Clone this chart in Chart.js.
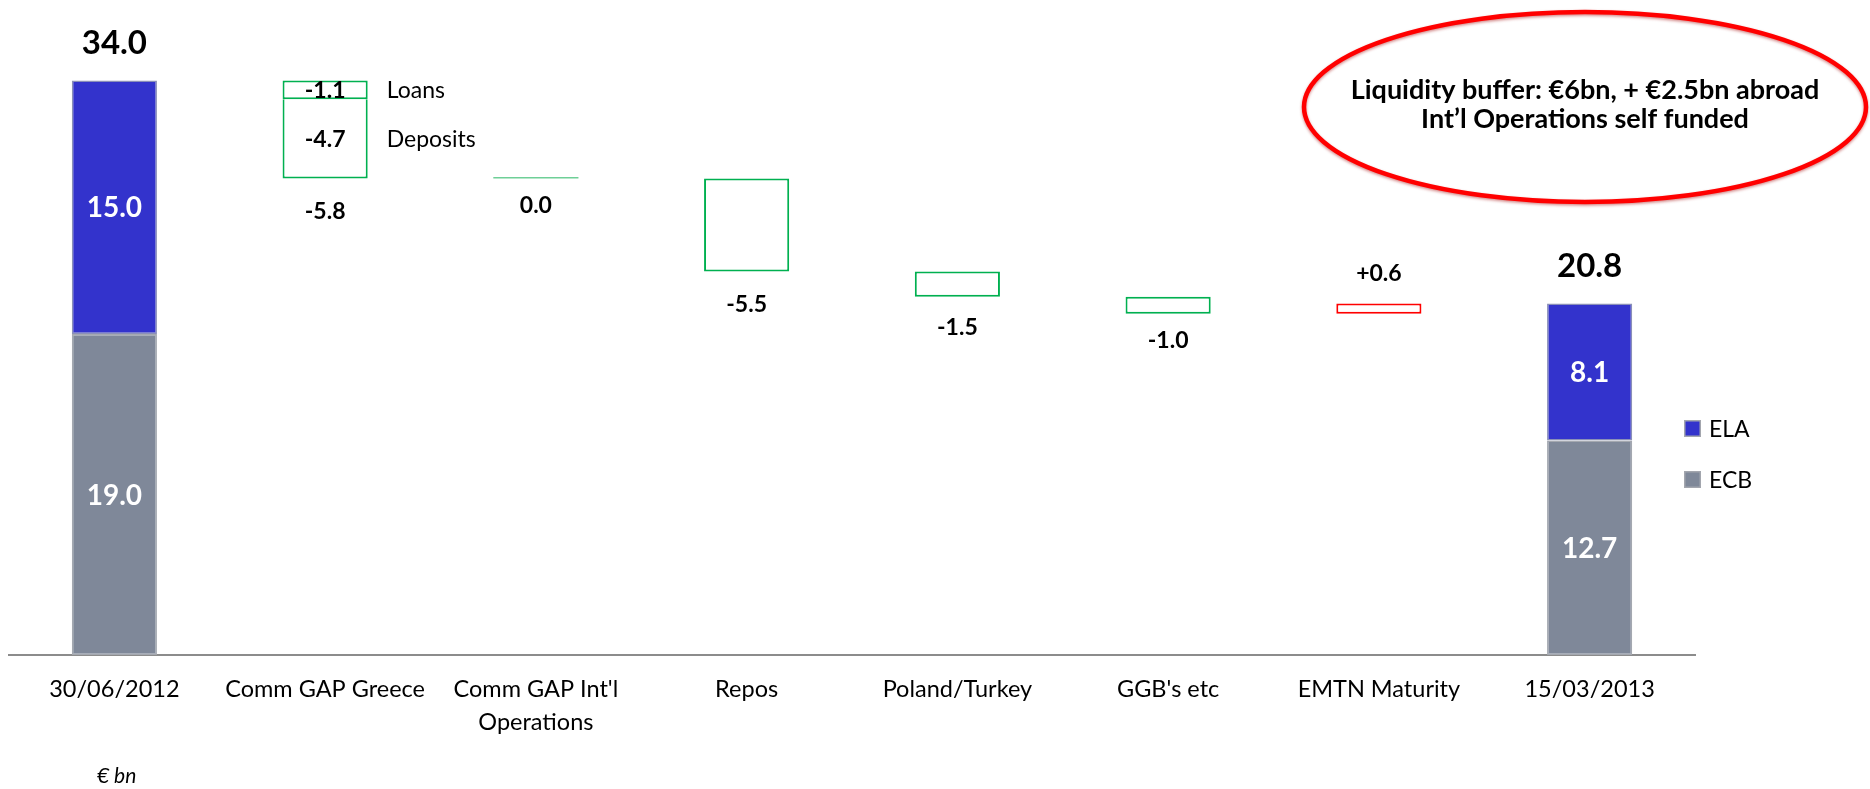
<!DOCTYPE html>
<html>
<head>
<meta charset="utf-8">
<title>Funding bridge</title>
<script src="https://cdn.jsdelivr.net/npm/chart.js@4.4.1/dist/chart.umd.min.js"></script>
<style>
  html, body { margin: 0; padding: 0; background: #ffffff; }
  #wrap { position: relative; width: 1870px; height: 789px; }
</style>
</head>
<body>
<div id="wrap"><canvas id="bridge" width="1870" height="789"></canvas></div>
<script>
// ---- data (€ bn) ----
const categories = [
  ['30/06/2012'], ['Comm GAP Greece'], ["Comm GAP Int'l", 'Operations'], ['Repos'],
  ['Poland/Turkey'], ["GGB's etc"], ['EMTN Maturity'], ['15/03/2013']
];
const ecbFunding = [19.0, 12.7];          // opening, closing
const elaFunding = [15.0, 8.1];           // opening, closing
const changes = [-5.8, 0.0, -5.5, -1.5, -1.0, 0.6];   // movements, categories 2..7
const greeceParts = [-1.1, -4.7];         // split of the Greece movement
const greecePartNames = ['Loans', 'Deposits'];
const seriesNames = ['ELA', 'ECB'];
const calloutLines = ['Liquidity buffer: €6bn, + €2.5bn abroad', 'Int’l Operations self funded'];
const unitLabel = '€ bn';

// ---- derived floating bars ----
const r1 = v => Math.round(v * 10) / 10;
const n = categories.length;
const blank = () => new Array(n).fill(null);
const openTotal = r1(ecbFunding[0] + elaFunding[0]);
const closeTotal = r1(ecbFunding[1] + elaFunding[1]);

const ecbBars = blank(), elaBars = blank();
ecbBars[0] = [0, ecbFunding[0]];  elaBars[0] = [ecbFunding[0], openTotal];
ecbBars[n - 1] = [0, ecbFunding[1]];  elaBars[n - 1] = [ecbFunding[1], closeTotal];

const fallBars = blank(), splitBars = blank(), riseBars = blank(), flatBars = blank();
const greeceIndex = 1;
const levels = [];            // [from, to] per movement
let level = openTotal;
changes.forEach((d, k) => {
  const i = k + 1;
  const next = r1(level + d);
  levels[i] = [level, next];
  if (i === greeceIndex) {
    const mid = r1(level + greeceParts[0]);
    fallBars[i] = [level, mid];
    splitBars[i] = [mid, r1(mid + greeceParts[1])];
  } else if (d === 0) {
    flatBars[i] = [level, level];
  } else if (d > 0) {
    riseBars[i] = [level, next];
  } else {
    fallBars[i] = [level, next];
  }
  level = next;
});

// ---- styles ----
const COL_ELA = '#3333CC', COL_ECB = '#7F8899';
const COL_FALL = '#00B050', COL_RISE = '#FF0000';
const FONT = 'Lato, "Open Sans", sans-serif';
const fmt = v => (v > 0 ? '+' : '') + v.toFixed(1);

// labels written on and around the bars
const valueLabels = {
  id: 'valueLabels',
  afterDatasetsDraw(chart, args, o) {
    const { ctx, scales: { x, y } } = chart;
    ctx.save();
    ctx.textAlign = 'center';
    ctx.textBaseline = 'middle';

    // ECB / ELA segment values and totals
    [[0, ecbFunding], [1, elaFunding]].forEach(([ds, vals]) => {
      [0, n - 1].forEach((i, j) => {
        const bar = chart.getDatasetMeta(ds).data[i];
        ctx.fillStyle = '#ffffff';
        ctx.font = `bold ${o.segSize}px ${FONT}`;
        ctx.fillText(vals[j].toFixed(1), bar.x, (bar.y + bar.base) / 2 + 1);
      });
    });
    [[0, openTotal], [n - 1, closeTotal]].forEach(([i, t]) => {
      const top = y.getPixelForValue(t);
      ctx.fillStyle = '#000000';
      ctx.font = `bold ${o.totalSize}px ${FONT}`;
      ctx.fillText(t.toFixed(1), x.getPixelForValue(i), top - o.totalGap);
    });

    // Greece split
    const bars = [chart.getDatasetMeta(2).data[greeceIndex], chart.getDatasetMeta(3).data[greeceIndex]];
    bars.forEach((bar, j) => {
      const cy = (bar.y + bar.base) / 2 + 1;
      ctx.fillStyle = '#000000';
      ctx.textAlign = 'center';
      ctx.font = `bold ${o.stepSize}px ${FONT}`;
      ctx.fillText(greeceParts[j].toFixed(1), bar.x, cy);
      ctx.textAlign = 'left';
      ctx.font = `${o.noteSize}px ${FONT}`;
      ctx.fillText(greecePartNames[j], bar.x + bar.width / 2 + o.noteGap, cy);
    });

    // movement values
    ctx.textAlign = 'center';
    ctx.font = `bold ${o.stepSize}px ${FONT}`;
    ctx.fillStyle = '#000000';
    changes.forEach((d, k) => {
      const i = k + 1;
      const [a, b] = levels[i];
      const cx = x.getPixelForValue(i);
      const gap = o.stepGaps[k];
      if (d > 0) {
        ctx.fillText(fmt(d), cx, y.getPixelForValue(Math.max(a, b)) - gap);
      } else {
        ctx.fillText(fmt(d), cx, y.getPixelForValue(Math.min(a, b)) + gap);
      }
    });
    ctx.restore();
  }
};

// series key at the right of the plot
const seriesKey = {
  id: 'seriesKey',
  afterDraw(chart, args, o) {
    const { ctx } = chart;
    const colors = [COL_ELA, COL_ECB];
    ctx.save();
    seriesNames.forEach((name, j) => {
      const yTop = o.top + j * o.step;
      ctx.fillStyle = colors[j];
      ctx.fillRect(o.left, yTop, o.box, o.box);
      ctx.strokeStyle = '#A3A6AE';
      ctx.lineWidth = 1.5;
      ctx.strokeRect(o.left + 0.75, yTop + 0.75, o.box - 1.5, o.box - 1.5);
      ctx.fillStyle = '#000000';
      ctx.font = `${o.size}px ${FONT}`;
      ctx.textAlign = 'left';
      ctx.textBaseline = 'middle';
      ctx.fillText(name, o.left + o.box + 8, yTop + o.box / 2 + 1);
    });
    ctx.restore();
  }
};

// red ellipse callout and unit note
const callout = {
  id: 'callout',
  afterDraw(chart, args, o) {
    const { ctx } = chart;
    ctx.save();
    ctx.beginPath();
    ctx.ellipse(o.cx, o.cy, o.rx, o.ry, 0, 0, Math.PI * 2);
    ctx.strokeStyle = '#FF0000';
    ctx.lineWidth = 4.5;
    ctx.shadowColor = 'rgba(160,0,0,0.45)';
    ctx.shadowBlur = 3;
    ctx.shadowOffsetY = 1.5;
    ctx.stroke();
    ctx.shadowColor = 'transparent';
    ctx.fillStyle = '#000000';
    ctx.font = `bold ${o.size}px ${FONT}`;
    ctx.textAlign = 'center';
    ctx.textBaseline = 'middle';
    calloutLines.forEach((t, j) => ctx.fillText(t, o.cx, o.textTop + j * o.lineStep));

    ctx.font = `italic ${o.unitSize}px ${FONT}`;
    ctx.textAlign = 'left';
    ctx.fillText(unitLabel, o.unitX, o.unitY);
    ctx.restore();
  }
};

new Chart(document.getElementById('bridge'), {
  type: 'bar',
  data: {
    labels: categories,
    datasets: [
      { label: 'ECB', data: ecbBars, backgroundColor: COL_ECB, borderColor: '#A4A8B0', borderWidth: 1.5 },
      { label: 'ELA', data: elaBars, backgroundColor: COL_ELA, borderColor: '#8A8FB8', borderWidth: 1.5 },
      { label: 'Decrease', data: fallBars, backgroundColor: '#ffffff', borderColor: COL_FALL, borderWidth: 2 },
      { label: 'Decrease split', data: splitBars, backgroundColor: '#ffffff', borderColor: COL_FALL, borderWidth: 2, borderSkipped: 'top' },
      { label: 'Increase', data: riseBars, backgroundColor: '#ffffff', borderColor: COL_RISE, borderWidth: 2 },
      { label: 'No change', data: flatBars, backgroundColor: '#6FCF97', borderWidth: 0, minBarLength: 1.5 }
    ]
  },
  options: {
    responsive: false,
    animation: false,
    events: [],
    layout: { padding: { left: 9, right: 175, top: 13, bottom: 0 } },
    datasets: { bar: { categoryPercentage: 1, barPercentage: 0.404, borderSkipped: false } },
    scales: {
      x: {
        stacked: true,
        grid: { display: false, drawTicks: false },
        border: { display: true, color: '#8C8C8C', width: 2 },
        ticks: { color: '#000000', font: { family: FONT, size: 23.5, lineHeight: 1.4 }, padding: 18, maxRotation: 0, autoSkip: false },
        afterFit: s => { s.height = 134; }
      },
      y: { display: false, stacked: false, min: 0, max: 38 }
    },
    plugins: {
      legend: { display: false },
      tooltip: { enabled: false },
      valueLabels: { segSize: 28, totalSize: 33, totalGap: 37, stepSize: 23, noteSize: 23, noteGap: 19,
                     stepGaps: [33, 27, 33, 31, 27, 30] },
      seriesKey: { left: 1684, top: 420, step: 51, box: 17, size: 23 },
      callout: { cx: 1585, cy: 107, rx: 281, ry: 95, size: 27, textTop: 90, lineStep: 29,
                 unitSize: 21, unitX: 97, unitY: 776 }
    }
  },
  plugins: [valueLabels, seriesKey, callout]
});
</script>
</body>
</html>
